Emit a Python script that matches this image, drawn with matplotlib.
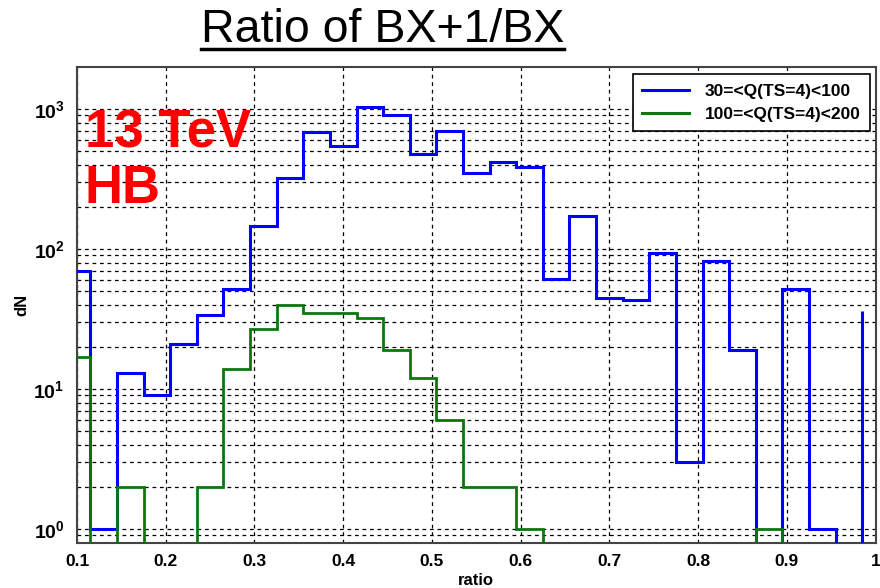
import numpy as np
import matplotlib
matplotlib.use("Agg")
import matplotlib.pyplot as plt
from matplotlib.ticker import FixedLocator, FuncFormatter, LogLocator, NullFormatter
from matplotlib.lines import Line2D

plt.rcParams['font.family'] = ['Liberation Sans', 'DejaVu Sans']
plt.rcParams['mathtext.fontset'] = 'custom'
plt.rcParams['mathtext.bf'] = 'Liberation Sans:bold'
plt.rcParams['mathtext.rm'] = 'Liberation Sans:bold'

# ---- data ----
bin_edges = np.round(0.085 + 0.03 * np.arange(31), 3)   # 0.085 ... 0.985
blue_counts = [70, 1, 13, 9, 21, 34, 52, 147, 320, 688, 544, 1028, 906, 475, 700,
               349, 418, 387, 61, 172, 45, 43, 94, 3, 82, 19, 0, 52, 1, 0]
blue_last = 36          # bin starting at 0.985
green_counts = [17, 0, 2, 0, 0, 2, 14, 27, 40, 35, 35, 32, 19, 12, 6,
                2, 2, 1, 0, 0, 0, 0, 0, 0, 0, 0, 1, 0, 0, 0]
labels = ["30=<Q(TS=4)<100", "100=<Q(TS=4)<200"]
xticks = [0.1, 0.2, 0.3, 0.4, 0.5, 0.6, 0.7, 0.8, 0.9, 1.0]
xticklabels = ["0.1", "0.2", "0.3", "0.4", "0.5", "0.6", "0.7", "0.8", "0.9", "1"]
title = "Ratio of BX+1/BX"
tag_lines = ["13 TeV", "HB"]

BLUE = "#0000ff"
GREEN = "#0a780a"
floor = 0.05

fig = plt.figure(figsize=(8.8, 5.88), dpi=100)
ax = fig.add_axes([0.0875, 0.0765, 0.9075, 0.8095])
ax.set_yscale('log')

def clip(v):
    v = np.asarray(v, dtype=float)
    return np.where(v > 0, v, floor)

ax.stairs(clip(blue_counts), bin_edges, baseline=floor, color=BLUE, lw=2.2,
          label=labels[0], zorder=3)
ax.vlines(bin_edges[-1], floor, blue_last, color=BLUE, lw=2.2, zorder=3)
ax.stairs(clip(green_counts), bin_edges, baseline=floor, color=GREEN, lw=2.0,
          label=labels[1], zorder=3)

ax.set_xlim(0.1, 1.0)
ax.set_ylim(10 ** -0.1, 10 ** 3.3)

ax.xaxis.set_major_locator(FixedLocator(xticks))
ax.set_xticklabels(xticklabels)
ax.yaxis.set_major_locator(LogLocator(base=10, numticks=10))
ax.yaxis.set_minor_locator(LogLocator(base=10, subs=np.arange(2, 10), numticks=20))
ax.yaxis.set_minor_formatter(NullFormatter())
ax.yaxis.set_major_formatter(FuncFormatter(
    lambda v, p: r"$\mathbf{10^{%d}}$" % int(round(np.log10(v)))))

ax.grid(True, which='major', axis='both', color='black', ls=(0, (3, 3)), lw=0.9)
ax.grid(True, which='minor', axis='y', color='black', ls=(0, (3, 3)), lw=0.9)
ax.set_axisbelow(True)

ax.tick_params(axis='both', which='both', length=0)
ax.tick_params(axis='x', labelsize=12.5, pad=8)
ax.tick_params(axis='y', labelsize=14, pad=9)
for t in ax.get_xticklabels():
    t.set_fontweight('bold')

for s in ax.spines.values():
    s.set_color('#444444')
    s.set_linewidth(1.5)

ax.set_xlabel("ratio", fontsize=12, fontweight='bold', labelpad=3)
ax.set_ylabel("dN", fontsize=12, fontweight='bold')
ax.yaxis.set_label_coords(-0.06, 0.5)

leg = ax.legend(loc='upper right', bbox_to_anchor=(0.993, 0.985), frameon=True,
                fancybox=False, edgecolor='black', framealpha=1,
                prop={'weight': 'bold', 'size': 12.5}, handlelength=2.7,
                borderpad=0.55, labelspacing=0.45, handletextpad=0.9,
                borderaxespad=0.0)
leg.get_frame().set_linewidth(1.2)
for h in leg.legend_handles:
    h.set_linewidth(2.2)

ax.text(0.01, 0.83, tag_lines[0], transform=ax.transAxes, color='#ff0000',
        fontsize=38, fontweight='bold', va='baseline', ha='left', zorder=5)
ax.text(0.01, 0.715, tag_lines[1], transform=ax.transAxes, color='#ff0000',
        fontsize=38, fontweight='bold', va='baseline', ha='left', zorder=5)

ttl = fig.text(0.435, 0.928, title, fontsize=33.5, ha='center', va='baseline')
fig.canvas.draw()
bb = ttl.get_window_extent().transformed(fig.transFigure.inverted())
uy = 0.928 - 0.011
fig.add_artist(Line2D([bb.x0, bb.x1], [uy, uy], transform=fig.transFigure,
                      color='black', lw=2.5))

fig.savefig("out.png", dpi=100)
